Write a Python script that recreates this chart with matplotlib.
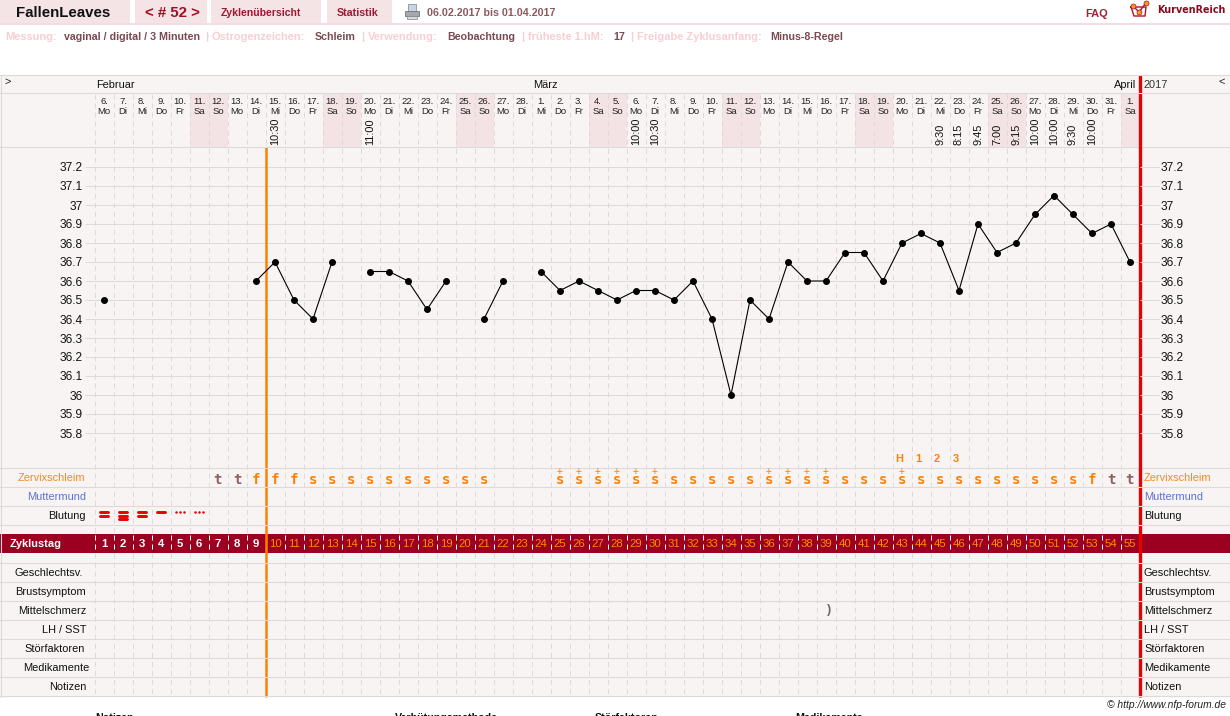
import matplotlib
matplotlib.use('Agg')
import matplotlib.pyplot as plt
from matplotlib.patches import Rectangle
from matplotlib.transforms import blended_transform_factory

plt.rcParams['font.family'] = ['Liberation Sans', 'DejaVu Sans']
plt.rcParams['lines.scale_dashes'] = False

# Zyklusdaten, ein Eintrag pro Tag
dates = ['6.', '7.', '8.', '9.', '10.', '11.', '12.', '13.', '14.', '15.', '16.', '17.', '18.', '19.',
         '20.', '21.', '22.', '23.', '24.', '25.', '26.', '27.', '28.',
         '1.', '2.', '3.', '4.', '5.', '6.', '7.', '8.', '9.', '10.', '11.', '12.', '13.', '14.', '15.',
         '16.', '17.', '18.', '19.', '20.', '21.', '22.', '23.', '24.', '25.', '26.', '27.', '28.', '29.',
         '30.', '31.', '1.']
weekdays = (['Mo', 'Di', 'Mi', 'Do', 'Fr', 'Sa', 'So'] * 8)[:55]
temps = [36.5, None, None, None, None, None, None, None, 36.6, 36.7, 36.5, 36.4, 36.7, None,
         36.65, 36.65, 36.6, 36.45, 36.6, None, 36.4, 36.6, None,
         36.65, 36.55, 36.6, 36.55, 36.5, 36.55, 36.55, 36.5, 36.6, 36.4, 36.0, 36.5, 36.4, 36.7, 36.6,
         36.6, 36.75, 36.75, 36.6, 36.8, 36.85, 36.8, 36.55, 36.9, 36.75, 36.8, 36.95, 37.05, 36.95,
         36.85, 36.9, 36.7]
times = {9: '10:30', 14: '11:00', 28: '10:00', 29: '10:30', 44: '9:30', 45: '8:15', 46: '9:45',
         47: '7:00', 48: '9:15', 49: '10:00', 50: '10:00', 51: '9:30', 52: '10:00'}
mucus = ([''] * 6 + ['t', 't', 'f', 'f', 'f'] + ['s'] * 10 + [''] * 3 + ['s+'] * 6 + ['s'] * 5
         + ['s+'] * 4 + ['s'] * 3 + ['s+'] + ['s'] * 9 + ['f', 't', 't'])
peak_marks = {42: 'H', 43: '1', 44: '2', 45: '3'}
bleeding = [2, 3, 2, 1, 0.5, 0.5]
pain_day = 38
temp_ticks = [37.2, 37.1, 37.0, 36.9, 36.8, 36.7, 36.6, 36.5, 36.4, 36.3, 36.2, 36.1, 36.0, 35.9, 35.8]
months = [('Februar', 96, 'left'), ('März', 545, 'center'), ('April', 1136, 'right')]
left_labels = [('Zervixschleim', 477, 85, '#f58a1f'), ('Muttermund', 496, 86, '#5b74d0'), ('Blutung', 515, 86, '#111111'),
               ('Geschlechtsv.', 572, 83, '#111111'), ('Brustsymptom', 591, 86, '#111111'),
               ('Mittelschmerz', 610, 86, '#111111'), ('LH / SST', 629, 87, '#111111'),
               ('Störfaktoren', 648, 85, '#111111'), ('Medikamente', 667, 89, '#111111'), ('Notizen', 686, 86, '#111111')]
info_line = [('Messung:', 5, 0), ('vaginal / digital / 3 Minuten', 64, 1), ('|', 205, 0),
             ('Östrogenzeichen:', 212, 0), ('Schleim', 315, 1), ('|', 361, 0), ('Verwendung:', 368, 0),
             ('Beobachtung', 447, 1), ('|', 521, 0), ('früheste 1.hM:', 528, 0), ('17', 613, 1), ('|', 630, 0),
             ('Freigabe Zyklusanfang:', 637, 0), ('Minus-8-Regel', 770, 1)]
tabs = [(0, 130), (135, 207), (211, 321), (327, 392)]
footer_titles = [('Notizen', 95), ('Verhütungsmethode', 395), ('Störfaktoren', 595), ('Medikamente', 795)]

W, H = 1230, 716
LINE = '#dedada'
PANEL = '#f9f4f4'
WEEKEND = '#f3e3e5'
BAND = '#9b0020'
ORANGE = '#ff8000'
RED = '#e60000'
TAB = '#f4e4e6'

fig = plt.figure(figsize=(W / 100, H / 100), dpi=100)

# Hintergrund in Pixelkoordinaten
ax = fig.add_axes([0, 0, 1, 1])
ax.set_xlim(0, W)
ax.set_ylim(H, 0)
ax.axis('off')

# Temperaturbereich: 19 px pro 0,1 Grad, 37,2 liegt auf y=167
top, bottom = 148, 468
left, right = 94.5, 1139.5
chart = fig.add_axes([left / W, 1 - bottom / H, (right - left) / W, (bottom - top) / H], zorder=2)
chart.patch.set_alpha(0)
chart.set_xlim(-0.5, 54.5)
chart.set_ylim(37.2 - (bottom - 167) / 190, 37.2 + (167 - top) / 190)
for s in chart.spines.values():
    s.set_visible(False)
chart.set_xticks([])
labels = [f'{t:g}' for t in temp_ticks]
chart.set_yticks(temp_ticks, labels, fontsize=8.6, color='#111111')
chart.tick_params(axis='y', length=6.9, width=0.72, color=LINE, pad=1.5)
chart.grid(axis='y', color=LINE, lw=0.72)
chart.set_axisbelow(True)
chart_r = chart.twinx()
chart_r.set_ylim(chart.get_ylim())
chart_r.set_xticks([])
chart_r.patch.set_alpha(0)
for s in chart_r.spines.values():
    s.set_visible(False)
chart_r.set_yticks(temp_ticks, labels, fontsize=8.6, color='#111111')
chart_r.tick_params(axis='y', length=13.5, width=0.72, color=LINE, pad=1.5)

day_y = blended_transform_factory(chart.transData, ax.transData)

# Kopfzeile
for x0, x1 in tabs:
    ax.add_patch(Rectangle((x0, 0), x1 - x0, 23, fc=TAB, ec='none'))
ax.add_patch(Rectangle((0, 23), W, 2, fc='#f4dde0', ec='none'))
ax.text(16, 13, 'FallenLeaves', fontsize=10.8, fontweight='bold', color='#111111', va='center')
ax.text(145, 13, '< # 52 >', fontsize=10.8, fontweight='bold', color='#a01025', va='center')
ax.text(221, 12.5, 'Zyklenübersicht', fontsize=7.6, fontweight='bold', color='#a01832', va='center')
ax.text(337, 12.5, 'Statistik', fontsize=7.7, fontweight='bold', color='#a01832', va='center')
ax.text(427, 12.5, '06.02.2017 bis 01.04.2017', fontsize=7.7, fontweight='bold', color='#8a5a60', va='center')
ax.text(1085, 14, 'FAQ', fontsize=7.9, fontweight='bold', color='#a52035', va='center')
ax.text(1157, 10, 'KurvenReich', fontsize=6.9, fontweight='bold', color='#8c0a1e', va='center', family='DejaVu Sans')

# Druckersymbol
ax.add_patch(Rectangle((408, 4), 8, 8, fc='#c8d4e4', ec='#8a94a4', lw=0.6))
ax.add_patch(Rectangle((405, 11), 14, 5, fc='#a4a8ac', ec='#70757a', lw=0.6))
ax.add_patch(Rectangle((407, 16), 10, 3, fc='#d6d8da', ec='#80858a', lw=0.5))

# Logo
ax.plot([1131, 1134, 1145, 1146, 1131], [7, 16, 16, 7, 7], color='#b0102a', lw=1)
ax.plot([1133, 1139, 1146], [6, 12, 3], color='#b0102a', lw=1)
ax.plot([1133, 1139, 1146], [6, 12, 3], ls='none', marker='o', ms=3.6, mfc='#f59a1a', mec='#b0102a', mew=0.5)

# Infozeile auf gemeinsamer Grundlinie
for text, x, is_value in info_line:
    ax.text(x, 40, text, fontsize=7.7 if is_value else 7.9, fontweight='bold', va='baseline',
            color='#7b4a50' if is_value else '#f8ced2')

# Tabellenflaeche
ax.add_patch(Rectangle((0, 75), W, 622, fc=PANEL, ec='none', zorder=0))
for i, wd in enumerate(weekdays):
    if wd in ('Sa', 'So'):
        ax.add_patch(Rectangle((i - 0.5, 94), 1, 53, fc=WEEKEND, ec='none', zorder=0.5, transform=day_y))

# Tagesgrenzen gestrichelt, im Zyklustag-Band weiss
dash = (0, (3.6, 2.9))
bounds = [i - 0.5 for i in range(55)]
ax.vlines(bounds, 94, 534, color=LINE, lw=0.72, linestyles=[dash], transform=day_y, zorder=1)
ax.vlines(bounds, 553, 697, color=LINE, lw=0.72, linestyles=[dash], transform=day_y, zorder=1)

ax.add_patch(Rectangle((0, 534), W, 19, fc=BAND, ec='none', zorder=1.2))
ax.vlines(bounds, 535, 553, color='white', lw=0.72, linestyles=[dash], transform=day_y, zorder=1.3)

# Zyklusbeginn und Zyklusende
chart.axvline(8.5, color=ORANGE, lw=1.8, zorder=3)
chart.axvline(54.5, color=RED, lw=2.4, zorder=3, clip_on=False)
ax.vlines([8.5], 468, 697, color=ORANGE, lw=1.8, transform=day_y, zorder=2)
ax.vlines([54.5], 75, 148, color=RED, lw=2.4, transform=day_y, zorder=2)
ax.vlines([54.5], 468, 697, color=RED, lw=2.4, transform=day_y, zorder=2)

for y in [75, 93, 147, 468, 487, 506, 525, 563, 582, 601, 620, 639, 658, 677, 696]:
    ax.axhline(y, color=LINE, lw=0.8, zorder=3)
ax.axvline(0.5, ymin=1 - 697 / H, ymax=1 - 75 / H, color=LINE, lw=0.8, zorder=3)

# Monate und Jahr
for name, x, ha in months:
    ax.text(x, 85, name, fontsize=7.9, color='#111111', ha=ha, va='center', zorder=4)
ax.text(1144, 85, '2017', fontsize=7.9, color='#333333', va='center', zorder=4)
ax.text(8, 82, '>', fontsize=7.9, color='#222222', ha='center', va='center')
ax.text(1222, 82, '<', fontsize=7.9, color='#222222', ha='center', va='center')

# Datum, Wochentag, Messzeit
for i, (d, wd) in enumerate(zip(dates, weekdays)):
    ax.text(i, 101.5, d, fontsize=6.8, color='#222222', ha='center', va='center', transform=day_y, zorder=4)
    ax.text(i, 111, wd, fontsize=6.8, color='#222222', ha='center', va='center', transform=day_y, zorder=4)
for i, t in times.items():
    ax.text(i, 145, t, fontsize=7.9, color='#111111', rotation=90, ha='center', va='bottom', transform=day_y, zorder=4)

# Temperaturkurve, Luecken trennen die Linie
xs = list(range(len(temps)))
ys = [float('nan') if t is None else t for t in temps]
chart.plot(xs, ys, color='black', lw=0.8, marker='o', ms=4.0, mfc='black', mec='black', zorder=5)

# Zeilenbeschriftung links und rechts
for text, y, x, color in left_labels:
    ax.text(x, y + 0.7, text, fontsize=7.9, color=color, ha='right', va='center', zorder=4)
    ax.text(1144, y + 0.7, text, fontsize=7.9, color=color, va='center', zorder=4)

# Zervixschleim
for i, m in enumerate(mucus):
    if not m:
        continue
    c = '#8a6060' if m == 't' else ORANGE
    ax.text(i, 480, m[0], fontsize=10.2, fontweight='bold', color=c, ha='center', va='center',
            transform=day_y, zorder=4, family='DejaVu Sans Mono')
    if m == 's+':
        ax.text(i - 0.05, 471.5, '+', fontsize=7, color=c, ha='center', va='center',
                transform=day_y, zorder=4, family='DejaVu Sans Mono')
for i, m in peak_marks.items():
    ax.text(i - 0.15, 459, m, fontsize=7.9, fontweight='bold', color=ORANGE, ha='center', va='center',
            transform=day_y, zorder=4)

# Blutung: Balken je nach Staerke, Punkte fuer Schmierblutung
for i, level in enumerate(bleeding):
    if level < 1:
        ax.plot([i - 0.2, i, i + 0.2], [511.5] * 3, ls='none', marker='o', ms=1.8, color=RED, mew=0,
                transform=day_y, zorder=4)
    elif level == 1:
        ax.plot([i - 0.2, i + 0.2], [511.7] * 2, color=RED, lw=2.1, solid_capstyle='round', transform=day_y, zorder=4)
    else:
        for k in range(int(level)):
            y = 512 + k * 3.7
            ax.plot([i - 0.23, i + 0.23], [y, y], color=RED, lw=2.1, solid_capstyle='round', transform=day_y, zorder=4)

# Zyklustag-Band
ax.text(10, 544, 'Zyklustag', fontsize=7.9, fontweight='bold', color='white', va='center', zorder=4)
for i in range(55):
    early = i < 9
    ax.text(i, 544, str(i + 1), fontsize=8.2, fontweight='bold' if early else 'normal',
            color='white' if early else '#ff8c00', ha='center', va='center', transform=day_y, zorder=4)

# Mittelschmerz
ax.text(pain_day + 0.15, 610, ')', fontsize=9, fontweight='bold', color='#6a6a6a', ha='center', va='center',
        transform=day_y, zorder=4)

# Fusszeile
ax.text(1226, 704.5, '© http://www.nfp-forum.de', fontsize=7.4, style='italic', color='#222222', ha='right', va='center')
for text, x in footer_titles:
    ax.text(x, 721, text, fontsize=7.7, fontweight='bold', color='#111111', va='baseline')

fig.savefig('out.png', dpi=100)
